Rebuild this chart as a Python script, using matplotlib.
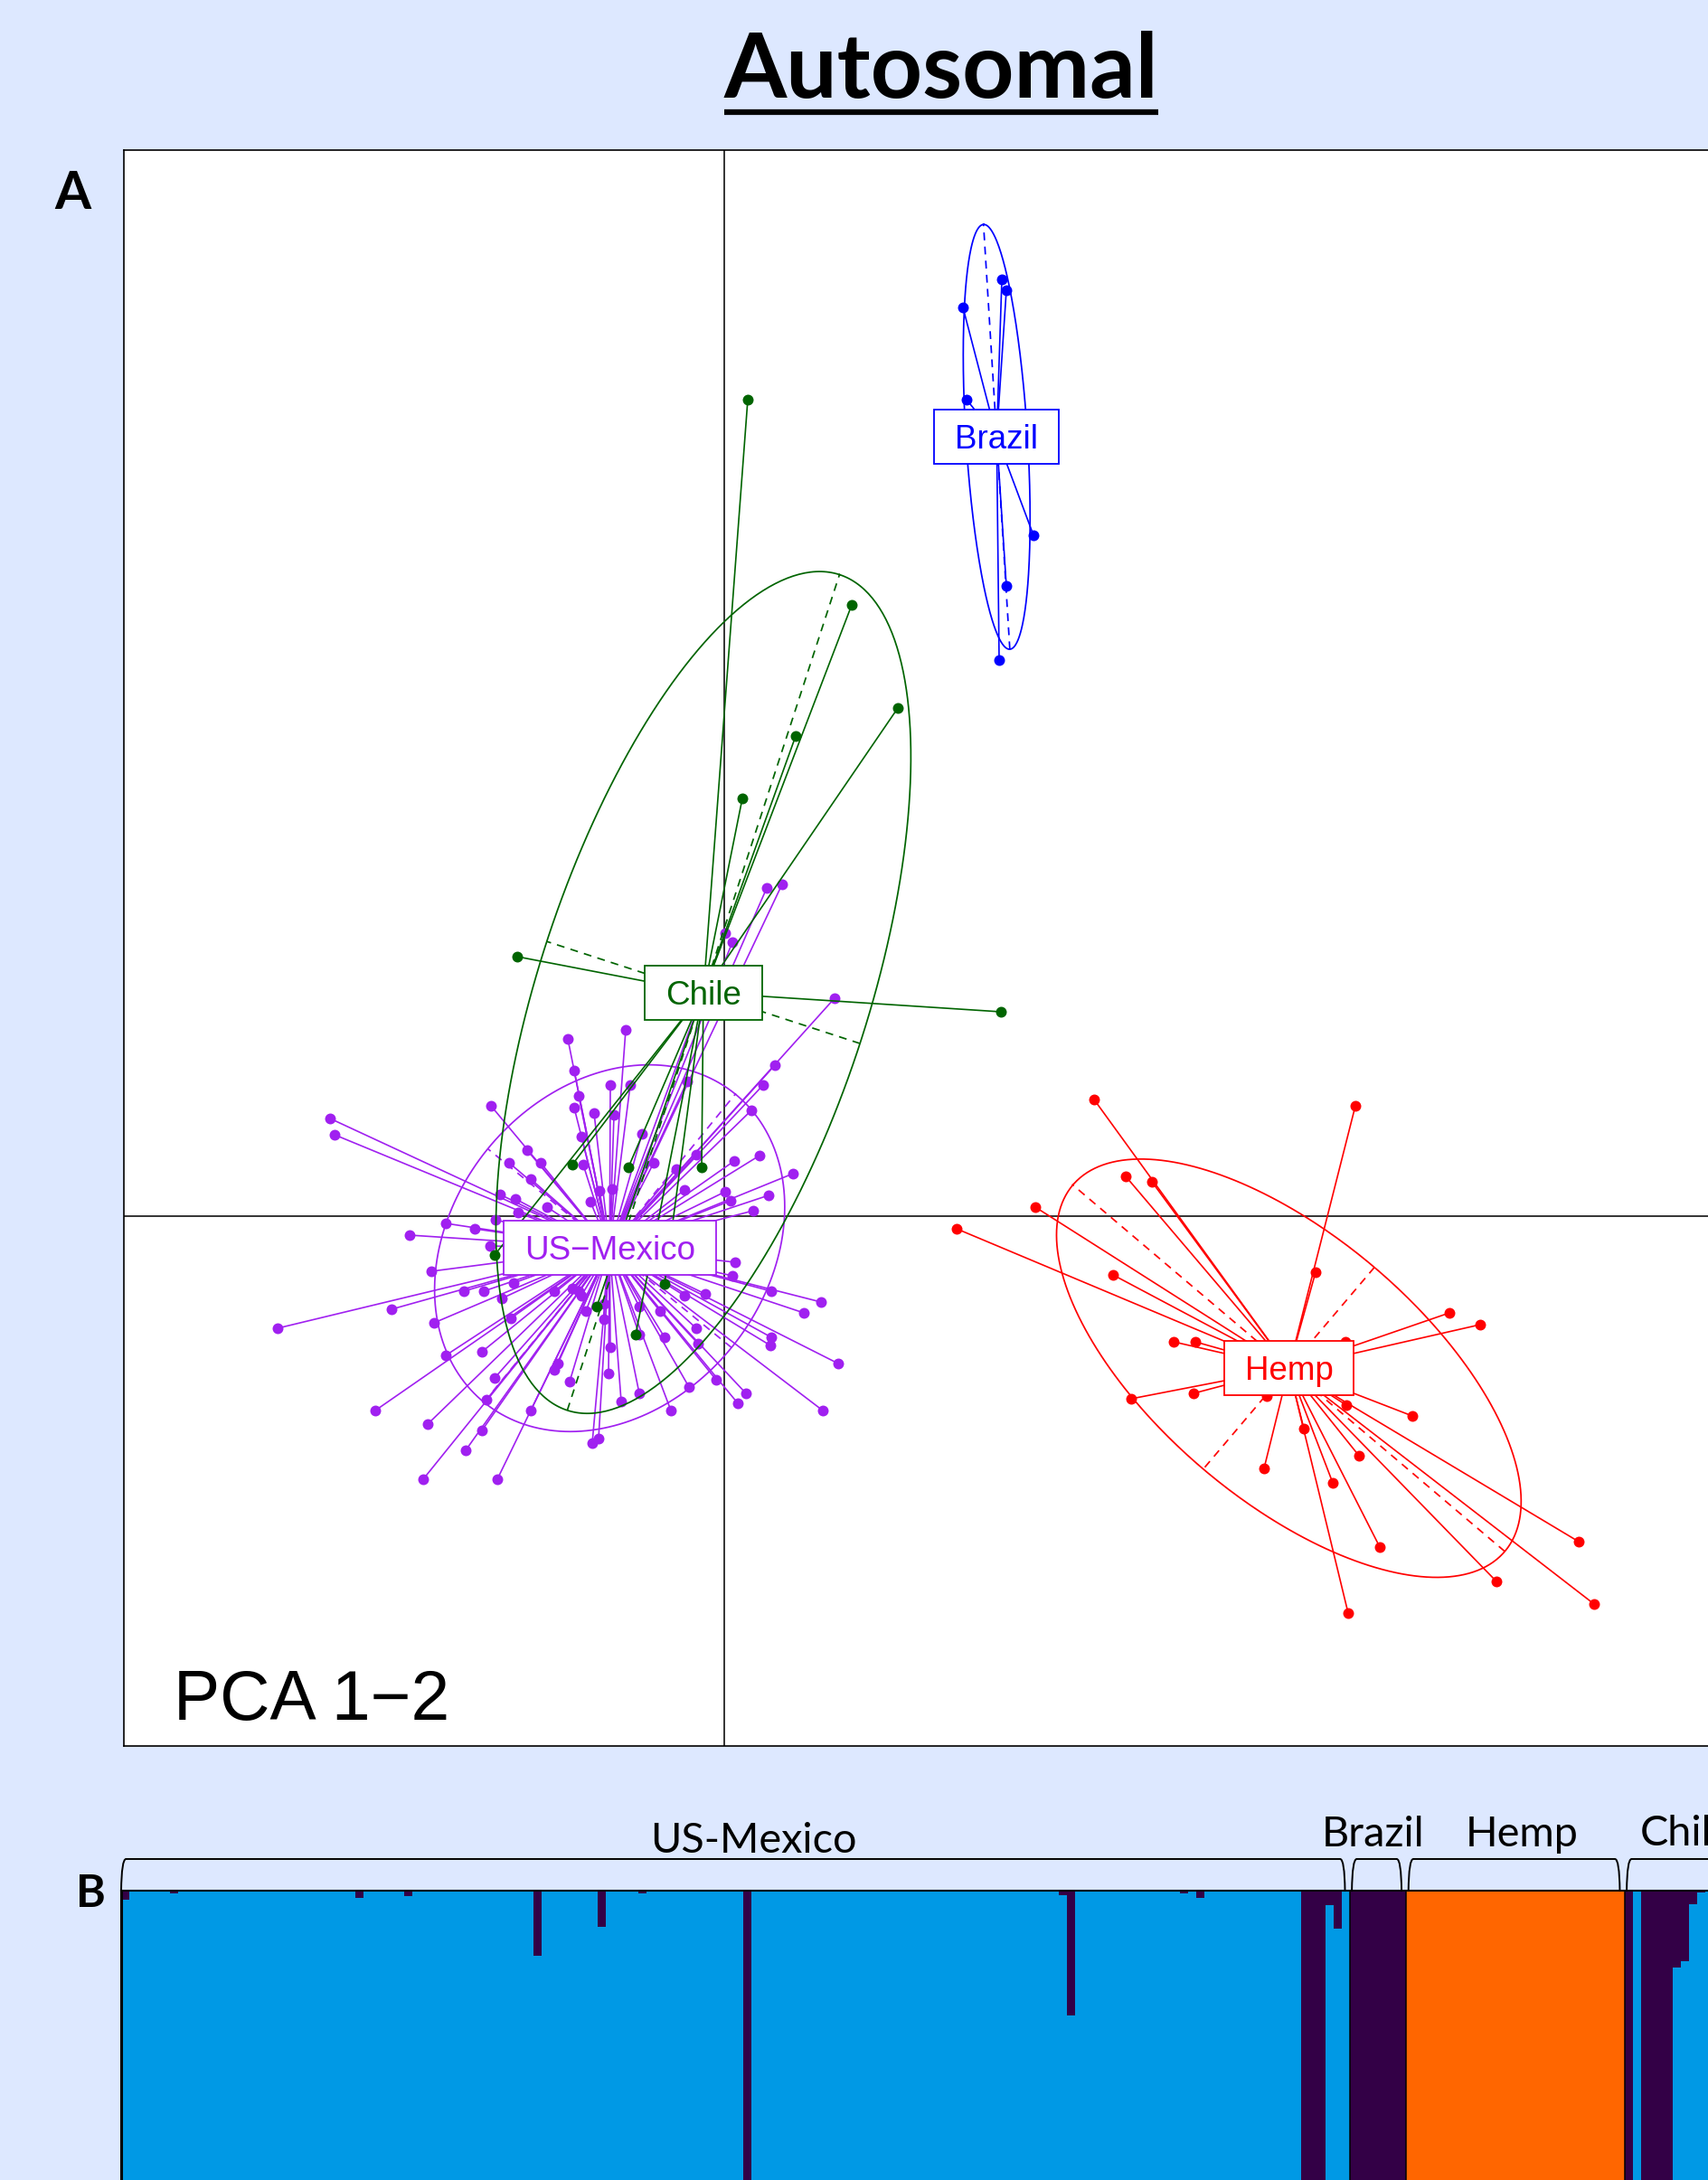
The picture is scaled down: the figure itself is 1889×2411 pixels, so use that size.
import numpy as np
import matplotlib
matplotlib.use("Agg")
import matplotlib.pyplot as plt
from matplotlib.path import Path
from matplotlib.patches import PathPatch, Rectangle
from matplotlib.lines import Line2D
from matplotlib.collections import LineCollection
from matplotlib.transforms import IdentityTransform, offset_copy

# ---------------- PCA data (PC1, PC2) ----------------
usmex_pc1 = [-1.73, -1.66, -1.61, -1.66, -1.44, -2.58, -4.36, -4.31, -1.58, -2.18,
             -2.38, -2.03, -1.56, -2.14, -2.48, -2.31, -1.96, -2.28, -2.53, -3.08,
             -2.76, -3.48, -2.59, -3.24, -2.33, -2.88, -2.66, -2.46, -3.68, -4.94,
             -3.21, -2.36, -1.88, -1.68, -1.58, -1.53, -3.08, -2.68, -1.84, -1.88,
             -1.71, -2.54, -3.86, -2.63, -2.14, -3.28, -2.68, -2.86, -1.46, -3.33, -2.51,
             -1.09, -1.26, -1.04, -1.22, -0.91, -0.41, 0.56, 0.43, 0.30, 0.39,
             0.11, 0.76, -0.31, -0.78, -0.53, -0.44, 0.01, 0.07, 0.49, 0.32,
             0.12, 0.09, -0.21, 0.52, 1.07, 0.88, -0.44, -0.71, -1.33, -1.33,
             -0.94, -0.31, -0.94, -0.66, -0.29, 0.52, 0.51, 1.26, -1.26, -1.28,
             -0.39, -0.09, 0.24, 0.15, 1.09, -0.59, -0.94, -1.14, -1.39, -1.38,
             -1.24, -1.48, -1.61, 0.47, 0.64, 0.01, 0.09, 1.22,
             -1.11, -0.96, -0.81, -0.66, -0.56, -0.41, -0.86, -0.71, -1.01, -0.51]
usmex_pc2 = [1.96, 1.61, 1.33, 1.20, 1.14, 1.22, 1.08, 0.90, 0.88, 0.73,
             0.59, 0.59, 0.57, 0.41, 0.24, 0.19, 0.10, 0.04, -0.04, -0.08,
             -0.14, -0.21, -0.33, -0.61, -0.74, -0.83, -0.83, -0.91, -1.03, -1.24,
             -1.18, -1.13, -0.83, -0.80, -0.88, -1.05, -1.54, -1.50, -1.63, -1.70,
             -1.83, -1.79, -2.15, -2.03, -2.15, -2.30, -2.37, -2.59, -2.51, -2.91, -2.91,
             2.06, 1.45, 1.45, 1.12, 0.91, 1.49, 1.67, 1.45, 1.17, 0.67,
             0.61, 0.47, 0.68, 0.59, 0.52, 0.29, 0.27, 0.17, 0.23, 0.06,
             -0.51, -0.66, -0.86, -0.83, -0.95, -1.07, -0.88, -1.05, -0.97, -1.14,
             -1.00, -1.24, -1.31, -1.34, -1.41, -1.34, -1.43, -1.63, -1.45, -1.74,
             -1.89, -1.81, -1.96, -2.07, -2.15, -2.15, -1.96, -2.05, -2.46, 0.28,
             0.30, 0.16, -0.83, 3.63, 3.67, 3.13, 3.03, 2.41,
             -0.20, -0.45, -0.30, -0.55, -0.40, -0.50, -0.57, -0.23, -0.53, -0.27]

chile_pc1 = [0.26, 1.41, 1.92, 0.79, 0.20, -2.29, 3.06, -1.68, -1.06, -0.25, -2.54, -0.98, -1.41, -0.66]
chile_pc2 = [9.03, 6.76, 5.62, 5.31, 4.62, 2.87, 2.26, 0.57, 0.54, 0.54, -0.43, -1.31, -1.00, -0.75]

brazil_pc1 = [3.07, 3.12, 2.64, 2.68, 3.42, 3.12, 3.04]
brazil_pc2 = [10.36, 10.24, 10.05, 9.03, 7.53, 6.97, 6.15]

hemp_pc1 = [4.09, 6.98, 4.44, 4.73, 3.44, 2.57, 6.54, 4.30, 8.02, 8.36,
            4.97, 5.21, 6.87, 4.50, 5.19, 6.00, 6.88, 7.61, 6.41, 7.02,
            5.97, 6.73, 7.25, 9.45, 8.54, 9.62, 6.90]
hemp_pc2 = [1.29, 1.22, 0.44, 0.38, 0.10, -0.14, -0.62, -0.65, -1.07, -1.20,
            -1.39, -1.39, -1.39, -2.02, -1.96, -1.99, -2.09, -2.21, -2.35, -2.65,
            -2.79, -2.95, -3.66, -3.60, -4.04, -4.29, -4.39]

pca_labels = ["US\u2212Mexico", "Chile", "Brazil", "Hemp"]
pca_colors = ["#A020F0", "#006400", "#0000FF", "#FF0000"]

# ---------------- STRUCTURE data ----------------
struct_groups = ["US-Mexico", "Brazil", "Hemp", "Chile"]
struct_sizes = [152, 7, 27, 14]
usmex_k2_index = [0, 6, 29, 35, 51, 59, 64, 77, 116, 117, 131, 133, 146, 147, 148, 149, 150]
usmex_k2_value = [0.015, 0.005, 0.012, 0.009, 0.11, 0.062, 0.005, 1.0, 0.008, 0.212,
                  0.005, 0.012, 1.0, 1.0, 1.0, 0.025, 0.065]
brazil_k2 = [1.0, 1.0, 1.0, 1.0, 1.0, 1.0, 1.0]
hemp_k3 = [1.0, 1.0, 1.0, 1.0, 1.0, 1.0, 1.0, 1.0, 1.0, 1.0, 1.0, 1.0, 1.0, 1.0,
           1.0, 1.0, 1.0, 1.0, 1.0, 1.0, 1.0, 1.0, 1.0, 1.0, 1.0, 1.0, 1.0]
chile_k2 = [0.95, 0.0, 0.95, 0.95, 0.95, 0.95, 0.13, 0.12, 0.023, 0.003, 0.0, 0.0, 0.0, 0.0]
K_COLORS = ["#0099E5", "#FF6600", "#330046"]  # K1 blue, K3 orange, K2 purple

# ---------------- figure ----------------
DPI = 100
W, H = 1889, 2411
BG = "#DDE8FF"
fig = plt.figure(figsize=(W / DPI, H / DPI), dpi=DPI)
fig.patch.set_facecolor(BG)
R = fig.canvas.get_renderer()


def pbox(l, t, r, b):
    return [l / W, 1 - b / H, (r - l) / W, (b - t) / H]


def fit_width(txt, target):
    w = txt.get_window_extent(R).width
    txt.set_fontsize(txt.get_fontsize() * target / w)


# Title
title = fig.text(1041 / W, 1 - 108 / H, "Autosomal", ha="center", va="baseline",
                 family="Lato", weight="bold", fontsize=64, color="black")
fit_width(title, 480)
fig.add_artist(Line2D([801 / W, 1281 / W], [1 - 124 / H, 1 - 124 / H],
                      lw=4.5, color="black", solid_capstyle="butt"))

# Panel letters
ta = fig.text(60 / W, 1 - 231 / H, "A", ha="left", va="baseline",
              family="Lato", weight="bold", fontsize=40)
fit_width(ta, 40)
tb = fig.text(84 / W, 1 - 2109 / H, "B", ha="left", va="baseline",
              family="Lato", weight="bold", fontsize=40)
fit_width(tb, 33)

# ---------------- Panel A: PCA ----------------
ax = fig.add_axes(pbox(137, 166, 1910, 1931))
ax.set_facecolor("white")
ax.set_xlim(-6.64, 11.09)
ax.set_ylim(-5.86, 11.79)
ax.set_xticks([])
ax.set_yticks([])
for s in ax.spines.values():
    s.set_linewidth(1.2)
    s.set_color("black")
ax.axhline(0, color="#333333", lw=1.4, zorder=1)
ax.axvline(0, color="#333333", lw=1.4, zorder=1)


def draw_group(x, y, col, z):
    x = np.asarray(x, float)
    y = np.asarray(y, float)
    cx, cy = x.mean(), y.mean()
    cov = np.cov(x, y, bias=True)
    vals, vecs = np.linalg.eigh(cov)
    a = 1.47 * np.sqrt(vals)
    t = np.linspace(0, 2 * np.pi, 400)
    ex = cx + a[1] * np.cos(t) * vecs[0, 1] + a[0] * np.sin(t) * vecs[0, 0]
    ey = cy + a[1] * np.cos(t) * vecs[1, 1] + a[0] * np.sin(t) * vecs[1, 0]
    ax.plot(ex, ey, color=col, lw=1.25, zorder=z)
    for k in range(2):
        ax.plot([cx - a[k] * vecs[0, k], cx + a[k] * vecs[0, k]],
                [cy - a[k] * vecs[1, k], cy + a[k] * vecs[1, k]],
                color=col, lw=1.25, ls=(0, (5, 4)), zorder=z)
    segs = [[(cx, cy), (xi, yi)] for xi, yi in zip(x, y)]
    ax.add_collection(LineCollection(segs, colors=col, linewidths=1.2, zorder=z))
    ax.plot(x, y, "o", ms=8.6, color=col, mew=0, zorder=z + 0.5)
    return cx, cy


data = [(usmex_pc1, usmex_pc2), (chile_pc1, chile_pc2),
        (brazil_pc1, brazil_pc2), (hemp_pc1, hemp_pc2)]
centers = []
for i, ((x, y), col) in enumerate(zip(data, pca_colors)):
    centers.append(draw_group(x, y, col, 3 + i))

for name, (cx, cy), col in zip(pca_labels, centers, pca_colors):
    tr = offset_copy(ax.transData, fig=fig, x=0, y=-13, units="dots")
    t = ax.text(cx, cy, name, transform=tr, ha="center", va="baseline",
                fontsize=26.5, family="Liberation Sans", color=col, zorder=21)
    tw = t.get_window_extent(R).width
    X, Y = ax.transData.transform((cx, cy))
    rect = Rectangle((X - tw / 2 - 23, Y - 30), tw + 46, 60,
                     transform=IdentityTransform(), facecolor="white",
                     edgecolor=col, lw=1.3, zorder=20)
    ax.add_patch(rect)

pca_txt = fig.text(192 / W, 1 - 1902 / H, "PCA 1\u22122", ha="left", va="baseline",
                   family="Liberation Sans", fontsize=54, color="black")
fit_width(pca_txt, 305)

# ---------------- Panel B: STRUCTURE ----------------
n_total = sum(struct_sizes)
k2 = np.zeros(n_total)
k3 = np.zeros(n_total)
k2[np.array(usmex_k2_index)] = usmex_k2_value
o = struct_sizes[0]
k2[o:o + struct_sizes[1]] = brazil_k2
o += struct_sizes[1]
k3[o:o + struct_sizes[2]] = hemp_k3
o += struct_sizes[2]
k2[o:o + struct_sizes[3]] = chile_k2
k1 = 1 - k2 - k3

axb = fig.add_axes(pbox(134, 2091, 134 + 8.94 * n_total, 2741))
pos = np.arange(n_total)
axb.bar(pos, k1, width=1.0, align="edge", color=K_COLORS[0], lw=0)
axb.bar(pos, k3, width=1.0, align="edge", bottom=k1, color=K_COLORS[1], lw=0)
axb.bar(pos, k2, width=1.0, align="edge", bottom=k1 + k3, color=K_COLORS[2], lw=0)
axb.set_xlim(0, n_total)
axb.set_ylim(0, 1)
axb.set_xticks([])
axb.set_yticks([])
axb.spines["left"].set_linewidth(2.2)
axb.spines["top"].set_linewidth(1.5)
axb.spines["right"].set_visible(False)
axb.spines["bottom"].set_visible(False)

bounds = np.cumsum([0] + struct_sizes)
for b in bounds[1:-1]:
    axb.axvline(b, color="black", lw=1.1, zorder=3)

xt = axb.get_xaxis_transform()
y_top = 1 + 35 / 650
y_bot = 1.0
for gi in range(len(struct_sizes)):
    a = bounds[gi] + (0.0 if gi == 0 else 0.25)
    b = bounds[gi + 1] - 0.6
    d = 0.6
    verts = [(a, y_bot), (a + 0.05, y_top), (a + d, y_top), (b - d, y_top),
             (b - 0.05, y_top), (b, y_bot)]
    codes = [Path.MOVETO, Path.CURVE3, Path.CURVE3, Path.LINETO, Path.CURVE3, Path.CURVE3]
    axb.add_patch(PathPatch(Path(verts, codes), transform=xt, fill=False,
                            edgecolor="black", lw=1.4, clip_on=False, zorder=5))

lab_x = [78.2, 154.9, 173.3, 187.9]
lab_y = [1 + 42 / 650, 1 + 49 / 650, 1 + 49 / 650, 1 + 50 / 650]
lab_ha = ["center", "center", "center", "left"]
lab_objs = []
for s, x, y, ha in zip(struct_groups, lab_x, lab_y, lab_ha):
    lab_objs.append(axb.text(x, y, s, transform=xt, ha=ha, va="baseline",
                             family="Lato", fontsize=33, color="black", clip_on=False))
w0 = lab_objs[0].get_window_extent(R).width
scale = 229 / w0
for t in lab_objs:
    t.set_fontsize(t.get_fontsize() * scale)

fig.savefig("out.png", dpi=DPI, facecolor=BG)
